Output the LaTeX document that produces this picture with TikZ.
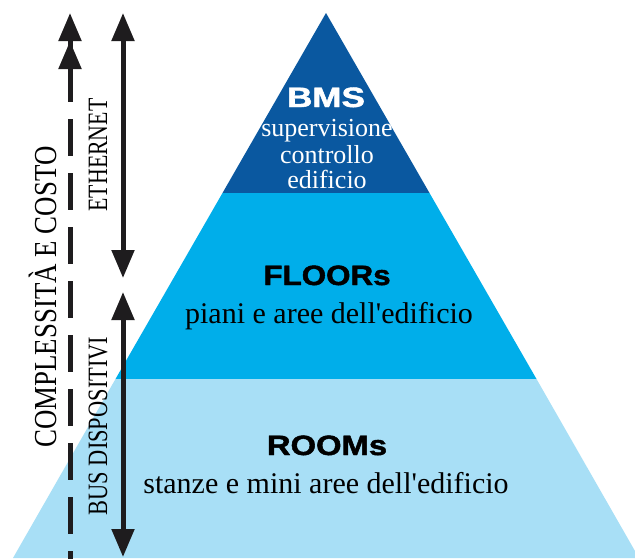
\documentclass[tikz,border=0pt]{standalone}
\usepackage{fontspec}
\setmainfont{Liberation Serif}
\newfontfamily\hsans{Liberation Sans}[BoldFeatures={FakeBold=1.6}]
\usetikzlibrary{arrows.meta}
\definecolor{bmsblue}{RGB}{10,88,160}
\definecolor{floorblue}{RGB}{0,174,234}
\definecolor{roomblue}{RGB}{168,223,246}
\definecolor{arrowblack}{RGB}{30,28,30}
\newcommand{\apos}{\textquotesingle}
\tikzset{
  title/.style={font=\hsans\bfseries\fontsize{28}{30}\selectfont, anchor=base, inner sep=0pt},
  desc/.style={font=\fontsize{30}{32}\selectfont, anchor=base, inner sep=0pt},
  bmsdesc/.style={font=\fontsize{26}{26}\selectfont, anchor=base, inner sep=0pt, text=white},
  sidelabel/.style={rotate=90, inner sep=0pt, anchor=center},
  bigarrow/.style={line width=5pt, draw=arrowblack, {Triangle[length=28pt,width=22pt]}-{Triangle[length=28pt,width=22pt]}},
}
\begin{document}
\begin{tikzpicture}[x=1pt,y=-1pt]
\useasboundingbox (0,0) rectangle (635,558);
\fill[white] (0,0) rectangle (635,558);
\begin{scope}
\clip (0,0) rectangle (635,558);
\fill[bmsblue] (326,13) -- (429.5,193) -- (222.5,193) -- cycle;
\fill[floorblue] (222.5,193) -- (429.5,193) -- (536.5,379) -- (115.5,379) -- cycle;
\fill[roomblue] (115.5,379) -- (536.5,379) -- (639,558) -- (13,558) -- cycle;
\end{scope}
% texts
\node[title, text=white] (bms) at (326,107) {\scalebox{1.25}[1]{BMS}};
\node[bmsdesc] (sup) at (327,136) {supervisione};
\node[bmsdesc] (ctl) at (327,163) {controllo};
\node[bmsdesc] (edf) at (327,188) {edificio};
\node[title] (floors) at (327,285) {\scalebox{1.12}[1]{FLOORs}};
\node[desc] (piani) at (329,323) {piani e aree dell\apos edificio};
\node[title] (rooms) at (327,455) {\scalebox{1.17}[1]{ROOMs}};
\node[desc] (stanze) at (326,493) {stanze e mini aree dell\apos edificio};
% side labels
\node[sidelabel] (cc) at (43,297) {\fontsize{32}{32}\selectfont\scalebox{0.84}[1]{COMPLESSITÀ E COSTO}};
\node[sidelabel] (eth) at (98,155) {\fontsize{28}{28}\selectfont\scalebox{0.78}[1]{ETHERNET}};
\node[sidelabel] (bus) at (98,426) {\fontsize{28}{28}\selectfont\scalebox{0.8}[1]{BUS DISPOSITIVI}};
% arrows
\coordinate (ethtop) at (123,13);
\coordinate (ethbot) at (123,278);
\coordinate (bustop) at (123,292);
\coordinate (busbot) at (123,557);
\draw[bigarrow] (ethtop) -- (ethbot);
\draw[bigarrow] (bustop) -- (busbot);
\coordinate (cctop) at (70,13);
\coordinate (ccmid) at (70,70);
\coordinate (ccbot) at (70,560);
\draw[line width=5pt, draw=arrowblack, dash pattern=on 37pt off 17pt, dash phase=5pt] (ccmid) -- (ccbot);
\draw[line width=5pt, draw=arrowblack, -{Triangle[length=28pt,width=22pt] Triangle[length=28pt,width=22pt]}] (ccmid) -- (cctop);
\end{tikzpicture}
\end{document}
